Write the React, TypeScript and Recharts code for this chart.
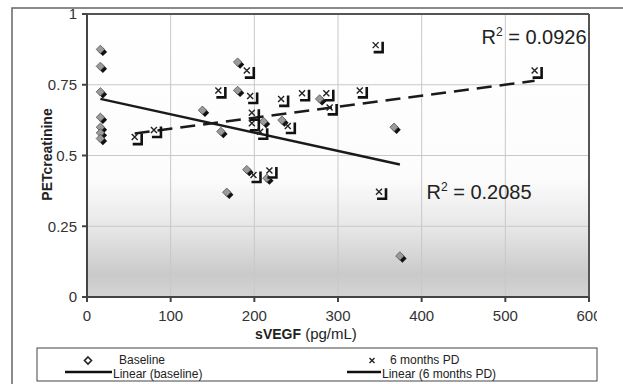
import React from 'react';
import { ScatterChart, Scatter, XAxis, YAxis, CartesianGrid, ReferenceLine } from 'recharts';

// ---- data ----
const baselineX = [16, 16, 16, 16, 16, 16, 16, 138, 160, 167, 180, 180, 191, 211, 215, 233, 278, 367, 374];
const baselineY = [0.875, 0.815, 0.725, 0.635, 0.6, 0.58, 0.56, 0.66, 0.585, 0.37, 0.83, 0.73, 0.45, 0.62, 0.42, 0.625, 0.7, 0.6, 0.145];
const pdX = [57, 80, 157, 191, 195, 197, 197, 207, 199, 218, 232, 240, 257, 286, 290, 326, 345, 349, 535];
const pdY = [0.565, 0.59, 0.73, 0.8, 0.71, 0.651, 0.614, 0.584, 0.431, 0.447, 0.7, 0.604, 0.72, 0.72, 0.67, 0.73, 0.89, 0.372, 0.8];
const baselineTrendX = [16, 374];
const baselineTrendY = [0.7, 0.468];
const pdTrendX = [57, 535];
const pdTrendY = [0.578, 0.764];
const xTicks = [0, 100, 200, 300, 400, 500, 600];
const yTicks = [0, 0.25, 0.5, 0.75, 1];
const r2Values = ['0.0926', '0.2085'];
const seriesNames = ['Baseline', '6 months PD'];
const trendNames = ['Linear (baseline)', 'Linear (6 months PD)'];
const xTitle = ['sVEGF', '(pg/mL)'];
const yTitle = 'PETcreatinine';

const baselineData = baselineX.map((x, i) => ({ x, y: baselineY[i] }));
const pdData = pdX.map((x, i) => ({ x, y: pdY[i] }));

const FONT = 'Arial, "Liberation Sans", sans-serif';

const Diamond = (p: any) => {
  const { cx, cy } = p;
  if (cx == null || cy == null) return null;
  const r = 4.2;
  const o = 2.5;
  return (
    <g>
      <path d={`M${cx + o},${cy + o - r}L${cx + o + r},${cy + o}L${cx + o},${cy + o + r}L${cx + o - r},${cy + o}Z`} fill="#111" />
      <path d={`M${cx},${cy - r}L${cx + r},${cy}L${cx},${cy + r}L${cx - r},${cy}Z`} fill="#9a9a9a" stroke="#555" strokeWidth={0.8} />
    </g>
  );
};

const Cross = (p: any) => {
  const { cx, cy } = p;
  if (cx == null || cy == null) return null;
  return (
    <g>
      <path d={`M${cx - 3},${cy - 3}L${cx + 3},${cy + 3}M${cx + 3},${cy - 3}L${cx - 3},${cy + 3}`} stroke="#222" strokeWidth={1.4} />
      <path d={`M${cx + 7},${cy - 3.5}V${cy + 7}H${cx - 2}`} stroke="#111" strokeWidth={2.6} fill="none" />
    </g>
  );
};

export default function App() {
  return (
    <div style={{ position: 'absolute', left: 0, top: 0, width: 623, height: 384, background: '#fff', fontFamily: FONT }}>
      <div style={{ position: 'absolute', left: 0, top: 0 }}>
        <ScatterChart width={623} height={384} margin={{ top: 14, right: 34, left: 0, bottom: 0 }}>
          <defs>
            <linearGradient id="plotBg" x1="0" y1="0" x2="0" y2="1">
              <stop offset="0%" stopColor="#ffffff" />
              <stop offset="58%" stopColor="#fcfcfc" />
              <stop offset="76%" stopColor="#e6e6e6" />
              <stop offset="92%" stopColor="#cacaca" />
              <stop offset="100%" stopColor="#d4d4d4" />
            </linearGradient>
          </defs>
          <CartesianGrid stroke="#c8c8c8" strokeWidth={1} fill="url(#plotBg)" fillOpacity={1} />
          <XAxis
            type="number"
            dataKey="x"
            domain={[0, 600]}
            ticks={xTicks}
            height={87}
            stroke="#444"
            strokeWidth={2}
            tickSize={5}
            tickMargin={8}
            tick={{ fill: '#333', fontSize: 15, fontFamily: FONT }}
            interval={0}
          />
          <YAxis
            type="number"
            dataKey="y"
            domain={[0, 1]}
            ticks={yTicks}
            width={87}
            stroke="#444"
            strokeWidth={2}
            tickSize={5}
            tickMargin={5}
            tick={{ fill: '#333', fontSize: 15, fontFamily: FONT }}
            interval={0}
          />
          <ReferenceLine y={1} stroke="#555" strokeWidth={2} />
          <ReferenceLine x={600} stroke="#555" strokeWidth={2} />
          <Scatter name={seriesNames[0]} data={baselineData} shape={Diamond} isAnimationActive={false} />
          <Scatter name={seriesNames[1]} data={pdData} shape={Cross} isAnimationActive={false} />
          <ReferenceLine
            segment={[{ x: baselineTrendX[0], y: baselineTrendY[0] }, { x: baselineTrendX[1], y: baselineTrendY[1] }]}
            stroke="#1a1a1a"
            strokeWidth={2.5}
          />
          <ReferenceLine
            segment={[{ x: pdTrendX[0], y: pdTrendY[0] }, { x: pdTrendX[1], y: pdTrendY[1] }]}
            stroke="#1a1a1a"
            strokeWidth={2.5}
            strokeDasharray="15 8"
          />
        </ScatterChart>
      </div>
      <svg width={623} height={384} style={{ position: 'absolute', left: 0, top: 0, pointerEvents: 'none' }}>
        {/* clip region on right */}
        <rect x={597} y={300} width={26} height={84} fill="#fff" />
        {/* outer frame */}
        <path d="M12,384V8H623" stroke="#666" strokeWidth={1.5} fill="none" />
        {/* axis titles */}
        <text transform="translate(52,154.5) rotate(-90)" textAnchor="middle" fontSize={14} fontWeight="bold" fill="#222" fontFamily={FONT}>
          {yTitle}
        </text>
        <text x={306} y={339} textAnchor="middle" fill="#222" fontFamily={FONT}>
          <tspan fontWeight="bold" fontSize={14}>{xTitle[0]}</tspan>
          <tspan fontSize={15}> {xTitle[1]}</tspan>
        </text>
        {/* R squared labels */}
        <text x={481.5} y={43.5} fontSize={20} fill="#222" fontFamily={FONT}>
          R<tspan fontSize={12} dy={-8}>2</tspan><tspan dy={8}> = {r2Values[0]}</tspan>
        </text>
        <text x={426.5} y={198.5} fontSize={20} fill="#222" fontFamily={FONT}>
          R<tspan fontSize={12} dy={-8}>2</tspan><tspan dy={8}> = {r2Values[1]}</tspan>
        </text>
        {/* legend */}
        <rect x={37} y={348} width={560} height={33} fill="#fff" stroke="#444" strokeWidth={1} />
        <path d="M88,357L91.5,360.5L88,364L84.5,360.5Z" fill="#fff" stroke="#222" strokeWidth={1.6} />
        <text x={119} y={364} fontSize={12} fill="#222" fontFamily={FONT}>{seriesNames[0]}</text>
        <line x1={65} y1={372} x2={112} y2={372} stroke="#111" strokeWidth={2.5} />
        <text x={113} y={377.5} fontSize={12} fill="#222" fontFamily={FONT}>{trendNames[0]}</text>
        <path d="M369.5,358L374.5,363M374.5,358L369.5,363" stroke="#222" strokeWidth={1.4} />
        <text x={390} y={364} fontSize={12} fill="#222" fontFamily={FONT}>{seriesNames[1]}</text>
        <line x1={347} y1={372} x2={381} y2={372} stroke="#111" strokeWidth={2.5} />
        <text x={382} y={377.5} fontSize={12} fill="#222" fontFamily={FONT}>{trendNames[1]}</text>
      </svg>
    </div>
  );
}
